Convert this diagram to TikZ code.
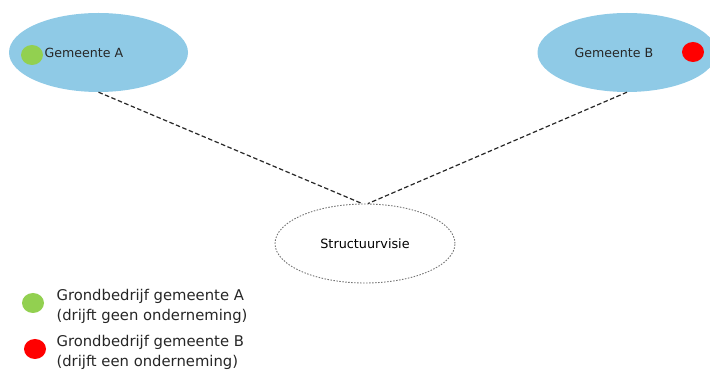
\documentclass[tikz,border=0pt]{standalone}
\usepackage{fontspec}
\setmainfont{DejaVu Sans}
\usetikzlibrary{shapes.geometric}
\definecolor{gemblue}{RGB}{143,202,230}
\definecolor{gemgreen}{RGB}{146,208,80}
\definecolor{gemred}{RGB}{255,0,0}
\begin{document}
\begin{tikzpicture}[x=1pt,y=-1pt,
    gemeente/.style={ellipse,fill=gemblue,minimum width=179pt,minimum height=79pt,inner sep=0pt},
    dot/.style={ellipse,minimum width=22pt,minimum height=20pt,inner sep=0pt},
    link/.style={line width=1.2pt,dash pattern=on 4.5pt off 2.5pt,black!85},
    label/.style={font=\fontsize{12.6}{15}\selectfont,text=black!85},
    legend/.style={font=\fontsize{14.8}{20}\selectfont,text=black!85,align=left,anchor=west}]
  \useasboundingbox (0,0) rectangle (710,371);
  \clip (0,0) rectangle (710,371);
  % gemeenten
  \node[gemeente] (gemA) at (98.5,52.5) {};
  \node[gemeente] (gemB) at (627,52.5) {};
  \node[dot,fill=gemgreen] (dotA) at (32,55) {};
  \node[dot,fill=gemred] (dotB) at (693,52) {};
  \node[label] at (84,53) {Gemeente A};
  \node[label] at (614,53) {Gemeente B};
  % structuurvisie
  \node[ellipse,draw=black!55,line width=0.9pt,dash pattern=on 1.5pt off 1.5pt,fill=white,minimum width=180pt,minimum height=79pt] (visie) at (365,243.5)
    {\fontsize{12.8}{15}\selectfont Structuurvisie};
  \draw[link] (gemA.south) -- ([xshift=-3pt]visie.north);
  \draw[link] (gemB.south) -- ([xshift=3pt]visie.north);
  % legenda
  \node[dot,fill=gemgreen] (legA) at (33,303) {};
  \node[dot,fill=gemred] (legB) at (35,349) {};
  \node[legend] at (53,306) {Grondbedrijf gemeente A\\(drijft geen onderneming)};
  \node[legend] at (53,352) {Grondbedrijf gemeente B\\(drijft een onderneming)};
\end{tikzpicture}
\end{document}
